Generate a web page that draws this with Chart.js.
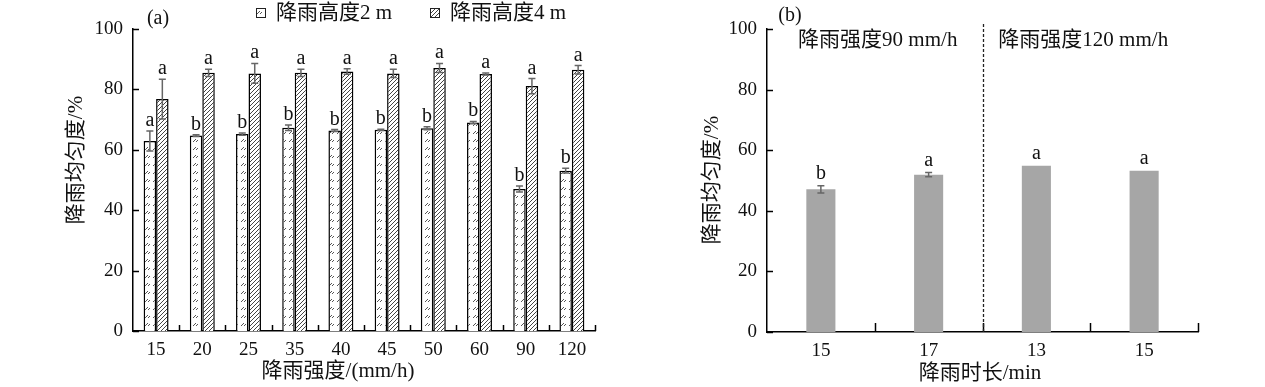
<!DOCTYPE html>
<html>
<head>
<meta charset="utf-8">
<script src="https://cdn.jsdelivr.net/npm/chart.js@4"></script>
<style>
  body { margin: 0; background: #fff; }
  .box { position: absolute; top: 0; height: 387px; }
</style>
</head>
<body>
<div class="box" style="left:0;width:620px"><canvas id="chartA" width="620" height="387"></canvas></div>
<div class="box" style="left:632px;width:633px"><canvas id="chartB" width="633" height="387"></canvas></div>
<script>
// (a) rain intensity vs uniformity, two heights
const intensities = ["15", "20", "25", "35", "40", "45", "50", "60", "90", "120"];
const uniform2m = [62.9, 64.7, 65.2, 67.3, 66.4, 66.6, 67.1, 69.0, 47.0, 53.1];
const err2m = [3.3, 0.3, 0.4, 0.9, 0.3, 0.2, 0.5, 0.4, 1.0, 0.8];
const letters2m = ["a", "b", "b", "b", "b", "b", "b", "b", "b", "b"];
const uniform4m = [76.8, 85.5, 85.3, 85.5, 85.9, 85.3, 87.1, 85.1, 81.1, 86.5];
const err4m = [6.6, 1.2, 3.3, 1.2, 0.9, 1.4, 1.5, 0.3, 2.5, 1.4];
const letters4m = ["a", "a", "a", "a", "a", "a", "a", "a", "a", "a"];

// (b) rain duration vs uniformity
const durations = ["15", "17", "13", "15"];
const uniformB = [47.1, 51.9, 54.9, 53.2];
const errB = [1.2, 0.7, 0, 0];
const lettersB = ["b", "a", "a", "a"];
const groupLabels = ["降雨强度90 mm/h", "降雨强度120 mm/h"];

const yTicks = [0, 20, 40, 60, 80, 100];
const FONT = "'Liberation Serif', 'Times New Roman', 'Noto Sans CJK SC', serif";

// hatch patterns
function sparsePattern() {
  const c = document.createElement("canvas");
  c.width = 8; c.height = 8;
  const g = c.getContext("2d");
  g.fillStyle = "#fff"; g.fillRect(0, 0, 8, 8);
  g.strokeStyle = "#555"; g.lineWidth = 1;
  g.beginPath();
  g.moveTo(1, 6); g.lineTo(4, 3);
  g.moveTo(4, 6); g.lineTo(6, 4);
  g.stroke();
  return g.createPattern(c, "repeat");
}
function densePattern() {
  const c = document.createElement("canvas");
  c.width = 4; c.height = 4;
  const g = c.getContext("2d");
  g.fillStyle = "#fff"; g.fillRect(0, 0, 4, 4);
  g.strokeStyle = "#444"; g.lineWidth = 1;
  g.beginPath();
  g.moveTo(-1, 5); g.lineTo(5, -1);
  g.moveTo(-1, 1); g.lineTo(1, -1);
  g.moveTo(3, 5); g.lineTo(5, 3);
  g.stroke();
  return g.createPattern(c, "repeat");
}

// inward ticks, error bars, letters, extra text
const decorPlugin = {
  id: "decor",
  afterDatasetsDraw(chart, args, opts) {
    const ctx = chart.ctx;
    const x = chart.scales.x, y = chart.scales.y;
    const area = chart.chartArea;
    ctx.save();
    ctx.strokeStyle = "#000";
    ctx.lineWidth = 1.5;
    // y ticks
    yTicks.forEach(v => {
      const py = Math.round(y.getPixelForValue(v)) + 0.5;
      ctx.beginPath();
      ctx.moveTo(area.left, py);
      ctx.lineTo(area.left + 6, py);
      ctx.stroke();
    });
    // x ticks at category boundaries
    const n = chart.data.labels.length;
    const step = (area.right - area.left) / n;
    for (let i = 1; i <= n; i++) {
      const px = Math.round(area.left + i * step) + 0.5;
      ctx.beginPath();
      ctx.moveTo(px, area.bottom);
      ctx.lineTo(px, area.bottom - opts.xTick);
      ctx.stroke();
    }
    // error bars + letters
    chart.data.datasets.forEach((ds, di) => {
      const meta = chart.getDatasetMeta(di);
      meta.data.forEach((bar, i) => {
        const e = ds.errors[i];
        const top = y.getPixelForValue(ds.data[i] + e);
        if (e > 0) {
          const bot = y.getPixelForValue(ds.data[i] - e);
          ctx.strokeStyle = "#666";
          ctx.lineWidth = 1.5;
          ctx.beginPath();
          ctx.moveTo(bar.x, top); ctx.lineTo(bar.x, bot);
          ctx.moveTo(bar.x - 3.5, top); ctx.lineTo(bar.x + 3.5, top);
          ctx.moveTo(bar.x - 3.5, bot); ctx.lineTo(bar.x + 3.5, bot);
          ctx.stroke();
        }
        ctx.fillStyle = "#111";
        ctx.font = "20px " + FONT;
        ctx.textAlign = "center";
        ctx.textBaseline = "alphabetic";
        ctx.fillText(ds.letters[i], bar.x, top - opts.letterGap);
      });
    });
    // free text
    opts.texts.forEach(t => {
      ctx.save();
      ctx.fillStyle = "#111";
      ctx.font = (t.size || 21) + "px " + FONT;
      ctx.textAlign = t.align || "center";
      ctx.textBaseline = "middle";
      ctx.translate(t.x, t.y);
      if (t.rotate) ctx.rotate(t.rotate);
      ctx.fillText(t.text, 0, 0);
      ctx.restore();
    });
    ctx.restore();
  }
};

// legend for (a)
const legendPlugin = {
  id: "hatchLegend",
  afterDraw(chart, args, opts) {
    if (!opts.items) return;
    const ctx = chart.ctx;
    ctx.save();
    chart.data.datasets.forEach((ds, i) => {
      const it = opts.items[i];
      ctx.fillStyle = ds.backgroundColor;
      ctx.fillRect(it.x, 8, 9, 9);
      ctx.strokeStyle = "#222";
      ctx.lineWidth = 1;
      ctx.strokeRect(it.x + 0.5, 8.5, 9, 9);
      ctx.fillStyle = "#111";
      ctx.font = "21px " + FONT;
      ctx.textAlign = "left";
      ctx.textBaseline = "middle";
      ctx.fillText(ds.label, it.x + 20, 13);
    });
    ctx.restore();
  }
};

// dashed divider and group labels for (b)
const groupPlugin = {
  id: "groups",
  afterDraw(chart, args, opts) {
    if (!opts.labels) return;
    const ctx = chart.ctx;
    const x = chart.scales.x;
    const area = chart.chartArea;
    const mid = (x.getPixelForValue(1) + x.getPixelForValue(2)) / 2;
    ctx.save();
    ctx.strokeStyle = "#222";
    ctx.lineWidth = 1.3;
    ctx.setLineDash([3, 2]);
    ctx.beginPath();
    ctx.moveTo(Math.round(mid) + 0.5, 24);
    ctx.lineTo(Math.round(mid) + 0.5, area.bottom);
    ctx.stroke();
    ctx.setLineDash([]);
    ctx.fillStyle = "#111";
    ctx.font = "21px " + FONT;
    ctx.textAlign = "center";
    ctx.textBaseline = "middle";
    const c1 = (area.left + mid) / 2 + 3;
    const c2 = (mid + area.right) / 2 - 7;
    ctx.fillText(opts.labels[0], c1, 40);
    ctx.fillText(opts.labels[1], c2, 40);
    ctx.restore();
  }
};

function baseScales(yWidth, xHeight) {
  return {
    x: {
      grid: { display: false, drawTicks: false },
      border: { display: true, color: "#000", width: 1.5 },
      ticks: { color: "#111", font: { family: FONT, size: 19 }, padding: 8 },
      afterFit: s => { s.height = xHeight; }
    },
    y: {
      min: 0, max: 100,
      grid: { display: false, drawTicks: false },
      border: { display: true, color: "#000", width: 1.5 },
      ticks: { stepSize: 20, color: "#111", font: { family: FONT, size: 19 }, padding: 10 },
      afterFit: s => { s.width = yWidth; }
    }
  };
}

new Chart(document.getElementById("chartA"), {
  type: "bar",
  data: {
    labels: intensities,
    datasets: [
      { label: "降雨高度2 m", data: uniform2m, errors: err2m, letters: letters2m,
        backgroundColor: sparsePattern(), borderColor: "#000", borderWidth: 1.5 },
      { label: "降雨高度4 m", data: uniform4m, errors: err4m, letters: letters4m,
        backgroundColor: densePattern(), borderColor: "#000", borderWidth: 1.5 }
    ]
  },
  options: {
    responsive: false,
    animation: false,
    categoryPercentage: 0.54,
    barPercentage: 1,
    layout: { padding: { left: 0, top: 29, right: 25, bottom: 0 } },
    scales: baseScales(133, 56),
    plugins: {
      legend: { display: false },
      tooltip: { enabled: false },
      decor: {
        xTick: 6, letterGap: 5,
        texts: [
          { text: "(a)", x: 158, y: 19, size: 20 },
          { text: "降雨均匀度/%", x: 76, y: 160, rotate: -Math.PI / 2 },
          { text: "降雨强度/(mm/h)", x: 338, y: 371 }
        ]
      },
      hatchLegend: { items: [{ x: 256 }, { x: 430 }] }
    }
  },
  plugins: [decorPlugin, legendPlugin]
});

new Chart(document.getElementById("chartB"), {
  type: "bar",
  data: {
    labels: durations,
    datasets: [
      { label: "降雨均匀度", data: uniformB, errors: errB, letters: lettersB,
        backgroundColor: "#a6a6a6", borderWidth: 0 }
    ]
  },
  options: {
    responsive: false,
    animation: false,
    categoryPercentage: 1,
    barPercentage: 0.27,
    layout: { padding: { left: 0, top: 29, right: 67, bottom: 0 } },
    scales: baseScales(135, 55),
    plugins: {
      legend: { display: false },
      tooltip: { enabled: false },
      decor: {
        xTick: 9, letterGap: 7,
        texts: [
          { text: "(b)", x: 158, y: 16, size: 20 },
          { text: "降雨均匀度/%", x: 80, y: 180, rotate: -Math.PI / 2 },
          { text: "降雨时长/min", x: 348, y: 373 }
        ]
      },
      groups: { labels: groupLabels }
    }
  },
  plugins: [decorPlugin, groupPlugin]
});
</script>
</body>
</html>
